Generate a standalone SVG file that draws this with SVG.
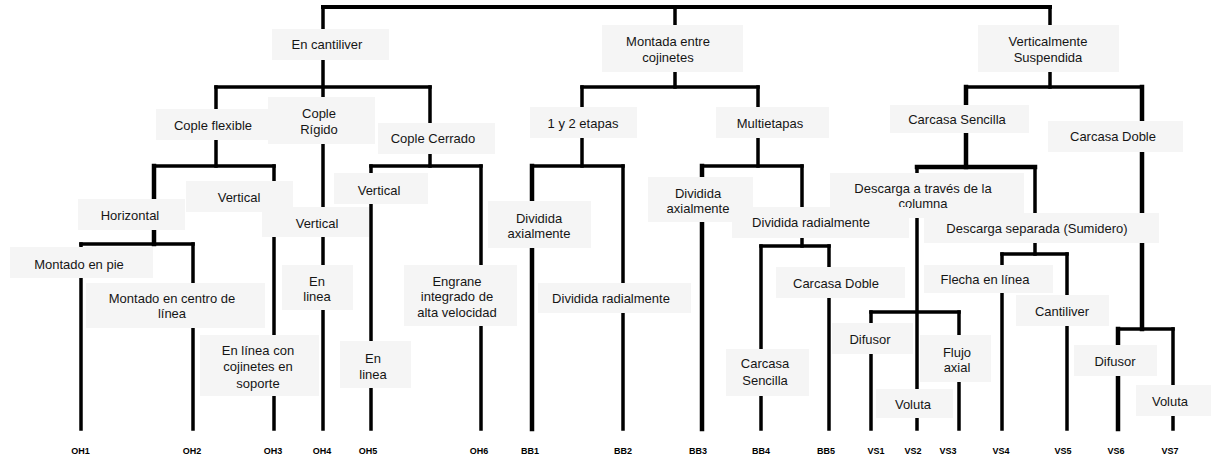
<svg xmlns="http://www.w3.org/2000/svg" width="1211" height="459" viewBox="0 0 1211 459">
<style>
.bg{fill:#ffffff}
.box{fill:#f5f5f5}
.ln{fill:none;stroke:#000;stroke-width:3.5;stroke-linecap:square}
.th{stroke-width:4.5}
.t{font-family:"Liberation Sans",Arial,sans-serif;font-size:13px;fill:#151515;text-anchor:middle}
.lb{font-family:"Liberation Sans",Arial,sans-serif;font-size:9px;font-weight:bold;fill:#000;text-anchor:middle}
</style>
<rect class="bg" x="0" y="0" width="1211" height="459"/>
<g id="connectors">
<path class="ln" d="M323,7 H1050" style="stroke-width:4"/>
<path class="ln" d="M323,7 V429"/>
<path class="ln" d="M675,7 V87"/>
<path class="ln" d="M1050,7 V87"/>
<path class="ln" d="M216,87 H430"/>
<path class="ln" d="M582,87 H758"/>
<path class="ln" d="M966,87 H1142"/>
<path class="ln" d="M216,87 V166"/>
<path class="ln" d="M154,166 H274"/>
<path class="ln th" d="M154,166 V244"/>
<path class="ln" d="M81,244 H193"/>
<path class="ln" d="M81,244 V429"/>
<path class="ln" d="M193,244 V429"/>
<path class="ln" d="M274,166 V429"/>
<path class="ln" d="M430,87 V166"/>
<path class="ln" d="M371,166 H481"/>
<path class="ln" d="M371,166 V429"/>
<path class="ln" d="M481,166 V429"/>
<path class="ln" d="M582,87 V166"/>
<path class="ln" d="M532,166 H623"/>
<path class="ln th" d="M532,166 V429"/>
<path class="ln" d="M623,166 V429"/>
<path class="ln" d="M758,87 V166"/>
<path class="ln" d="M702,166 H802"/>
<path class="ln th" d="M702,166 V429"/>
<path class="ln" d="M802,166 V246"/>
<path class="ln" d="M761,246 H829"/>
<path class="ln" d="M761,246 V429"/>
<path class="ln" d="M829,246 V429"/>
<path class="ln th" d="M966,87 V167"/>
<path class="ln th" d="M917,167 H1035"/>
<path class="ln" d="M917,167 V429"/>
<path class="ln" d="M871,312 H959"/>
<path class="ln" d="M871,312 V429"/>
<path class="ln" d="M959,312 V429"/>
<path class="ln" d="M1035,167 V254"/>
<path class="ln" d="M1002,254 H1067"/>
<path class="ln" d="M1002,254 V429"/>
<path class="ln" d="M1067,254 V429"/>
<path class="ln th" d="M1142,87 V329"/>
<path class="ln" d="M1118,329 H1173"/>
<path class="ln th" d="M1118,329 V429"/>
<path class="ln" d="M1173,329 V429"/>
</g>
<g id="n_en_cantiliver"><rect class="box" x="272" y="29" width="117" height="31"/><text class="t" x="327" y="49">En cantiliver</text></g>
<g id="n_montada"><rect class="box" x="602" y="25" width="141" height="47"/><text class="t" x="668" y="45.5">Montada entre</text><text class="t" x="668" y="61.5">cojinetes</text></g>
<g id="n_vert_susp"><rect class="box" x="978" y="25" width="141" height="47"/><text class="t" x="1048" y="45.5">Verticalmente</text><text class="t" x="1048" y="61.5">Suspendida</text></g>
<g id="n_cople_flexible"><rect class="box" x="156" y="109" width="120" height="31"/><text class="t" x="213" y="129.5">Cople flexible</text></g>
<g id="n_cople_rigido"><rect class="box" x="268" y="97" width="107" height="47"/><text class="t" x="319" y="117.5">Cople</text><text class="t" x="319" y="133.5">Rígido</text></g>
<g id="n_cople_cerrado"><rect class="box" x="378" y="123" width="117" height="31"/><text class="t" x="433" y="142.5">Cople Cerrado</text></g>
<g id="n_vertical1"><rect class="box" x="186" y="181" width="107" height="31"/><text class="t" x="239" y="201.5">Vertical</text></g>
<g id="n_horizontal"><rect class="box" x="78" y="199" width="107" height="31"/><text class="t" x="130" y="219.5">Horizontal</text></g>
<g id="n_vertical2"><rect class="box" x="262" y="207" width="107" height="30"/><text class="t" x="317" y="227.5">Vertical</text></g>
<g id="n_vertical3"><rect class="box" x="334" y="173" width="94" height="31"/><text class="t" x="379" y="194.5">Vertical</text></g>
<g id="n_montado_pie"><rect class="box" x="10" y="247" width="143" height="31"/><text class="t" x="79" y="268.5">Montado en pie</text></g>
<g id="n_montado_centro"><rect class="box" x="86" y="283" width="179" height="45"/><text class="t" x="172" y="302.5">Montado en centro de</text><text class="t" x="172" y="317.5">línea</text></g>
<g id="n_en_linea_cojinetes"><rect class="box" x="200" y="335" width="119" height="61"/><text class="t" x="258" y="354.5">En línea con</text><text class="t" x="258" y="371">cojinetes en</text><text class="t" x="258" y="387.5">soporte</text></g>
<g id="n_en_linea_oh4"><rect class="box" x="282" y="265" width="71" height="45"/><text class="t" x="317" y="285.5">En</text><text class="t" x="317" y="300.5">linea</text></g>
<g id="n_en_linea_oh5"><rect class="box" x="340" y="341" width="71" height="47"/><text class="t" x="373" y="362.5">En</text><text class="t" x="373" y="378.5">linea</text></g>
<g id="n_engrane"><rect class="box" x="404" y="265" width="113" height="61"/><text class="t" x="457" y="285.5">Engrane</text><text class="t" x="457" y="300.5">integrado de</text><text class="t" x="457" y="316.5">alta velocidad</text></g>
<g id="n_uno_dos"><rect class="box" x="530" y="107" width="107" height="31"/><text class="t" x="583" y="127.5">1 y 2 etapas</text></g>
<g id="n_multietapas"><rect class="box" x="716" y="107" width="113" height="31"/><text class="t" x="770" y="127.5">Multietapas</text></g>
<g id="n_div_axial_bb1"><rect class="box" x="488" y="201" width="103" height="47"/><text class="t" x="539" y="222.5">Dividida</text><text class="t" x="539" y="237.5">axialmente</text></g>
<g id="n_div_radial_bb2"><rect class="box" x="538" y="283" width="153" height="30"/><text class="t" x="611" y="302.5">Dividida radialmente</text></g>
<g id="n_div_axial_bb3"><rect class="box" x="648" y="177" width="105" height="45"/><text class="t" x="698" y="197.5">Dividida</text><text class="t" x="698" y="212.5">axialmente</text></g>
<g id="n_descarga_columna"><rect class="box" x="830" y="173" width="194" height="45"/><text class="t" x="923" y="192.5">Descarga a través de la</text><text class="t" x="923" y="207.5">columna</text></g>
<g id="n_div_radial_multi"><rect class="box" x="732" y="207" width="177" height="31"/><text class="t" x="811" y="226.5">Dividida radialmente</text></g>
<g id="n_carcasa_sencilla_bb4"><rect class="box" x="726" y="349" width="83" height="47"/><text class="t" x="765" y="367.5">Carcasa</text><text class="t" x="765" y="384.5">Sencilla</text></g>
<g id="n_carcasa_doble_bb5"><rect class="box" x="776" y="267" width="129" height="31"/><text class="t" x="836" y="287.5">Carcasa Doble</text></g>
<g id="n_carcasa_sencilla_vs"><rect class="box" x="890" y="105" width="139" height="28"/><text class="t" x="957" y="123.5">Carcasa Sencilla</text></g>
<g id="n_carcasa_doble_vs"><rect class="box" x="1048" y="121" width="135" height="31"/><text class="t" x="1113" y="140.5">Carcasa Doble</text></g>
<g id="n_descarga_separada"><rect class="box" x="924" y="213" width="235" height="30"/><text class="t" x="1037" y="232.5">Descarga separada (Sumidero)</text></g>
<g id="n_flecha"><rect class="box" x="924" y="265" width="129" height="28"/><text class="t" x="985" y="283.5">Flecha en línea</text></g>
<g id="n_cantiliver"><rect class="box" x="1016" y="295" width="93" height="31"/><text class="t" x="1062" y="315.5">Cantiliver</text></g>
<g id="n_difusor_vs1"><rect class="box" x="832" y="323" width="81" height="31"/><text class="t" x="870" y="343.5">Difusor</text></g>
<g id="n_voluta_vs2"><rect class="box" x="876" y="389" width="77" height="29"/><text class="t" x="913" y="408.5">Voluta</text></g>
<g id="n_flujo"><rect class="box" x="920" y="335" width="71" height="47"/><text class="t" x="957" y="356.5">Flujo</text><text class="t" x="957" y="371.5">axial</text></g>
<g id="n_difusor_vs6"><rect class="box" x="1074" y="345" width="83" height="31"/><text class="t" x="1115" y="365.5">Difusor</text></g>
<g id="n_voluta_vs7"><rect class="box" x="1136" y="385" width="75" height="31"/><text class="t" x="1170" y="405.5">Voluta</text></g>
<g id="labels">
<text class="lb" x="80.5" y="454">OH1</text>
<text class="lb" x="192" y="454">OH2</text>
<text class="lb" x="273" y="454">OH3</text>
<text class="lb" x="322" y="454">OH4</text>
<text class="lb" x="368" y="454">OH5</text>
<text class="lb" x="479" y="454">OH6</text>
<text class="lb" x="530" y="454">BB1</text>
<text class="lb" x="623" y="454">BB2</text>
<text class="lb" x="698" y="454">BB3</text>
<text class="lb" x="761" y="454">BB4</text>
<text class="lb" x="826" y="454">BB5</text>
<text class="lb" x="876" y="454">VS1</text>
<text class="lb" x="913" y="454">VS2</text>
<text class="lb" x="948" y="454">VS3</text>
<text class="lb" x="1001" y="454">VS4</text>
<text class="lb" x="1063" y="454">VS5</text>
<text class="lb" x="1116" y="454">VS6</text>
<text class="lb" x="1170" y="454">VS7</text>
</g>
</svg>
